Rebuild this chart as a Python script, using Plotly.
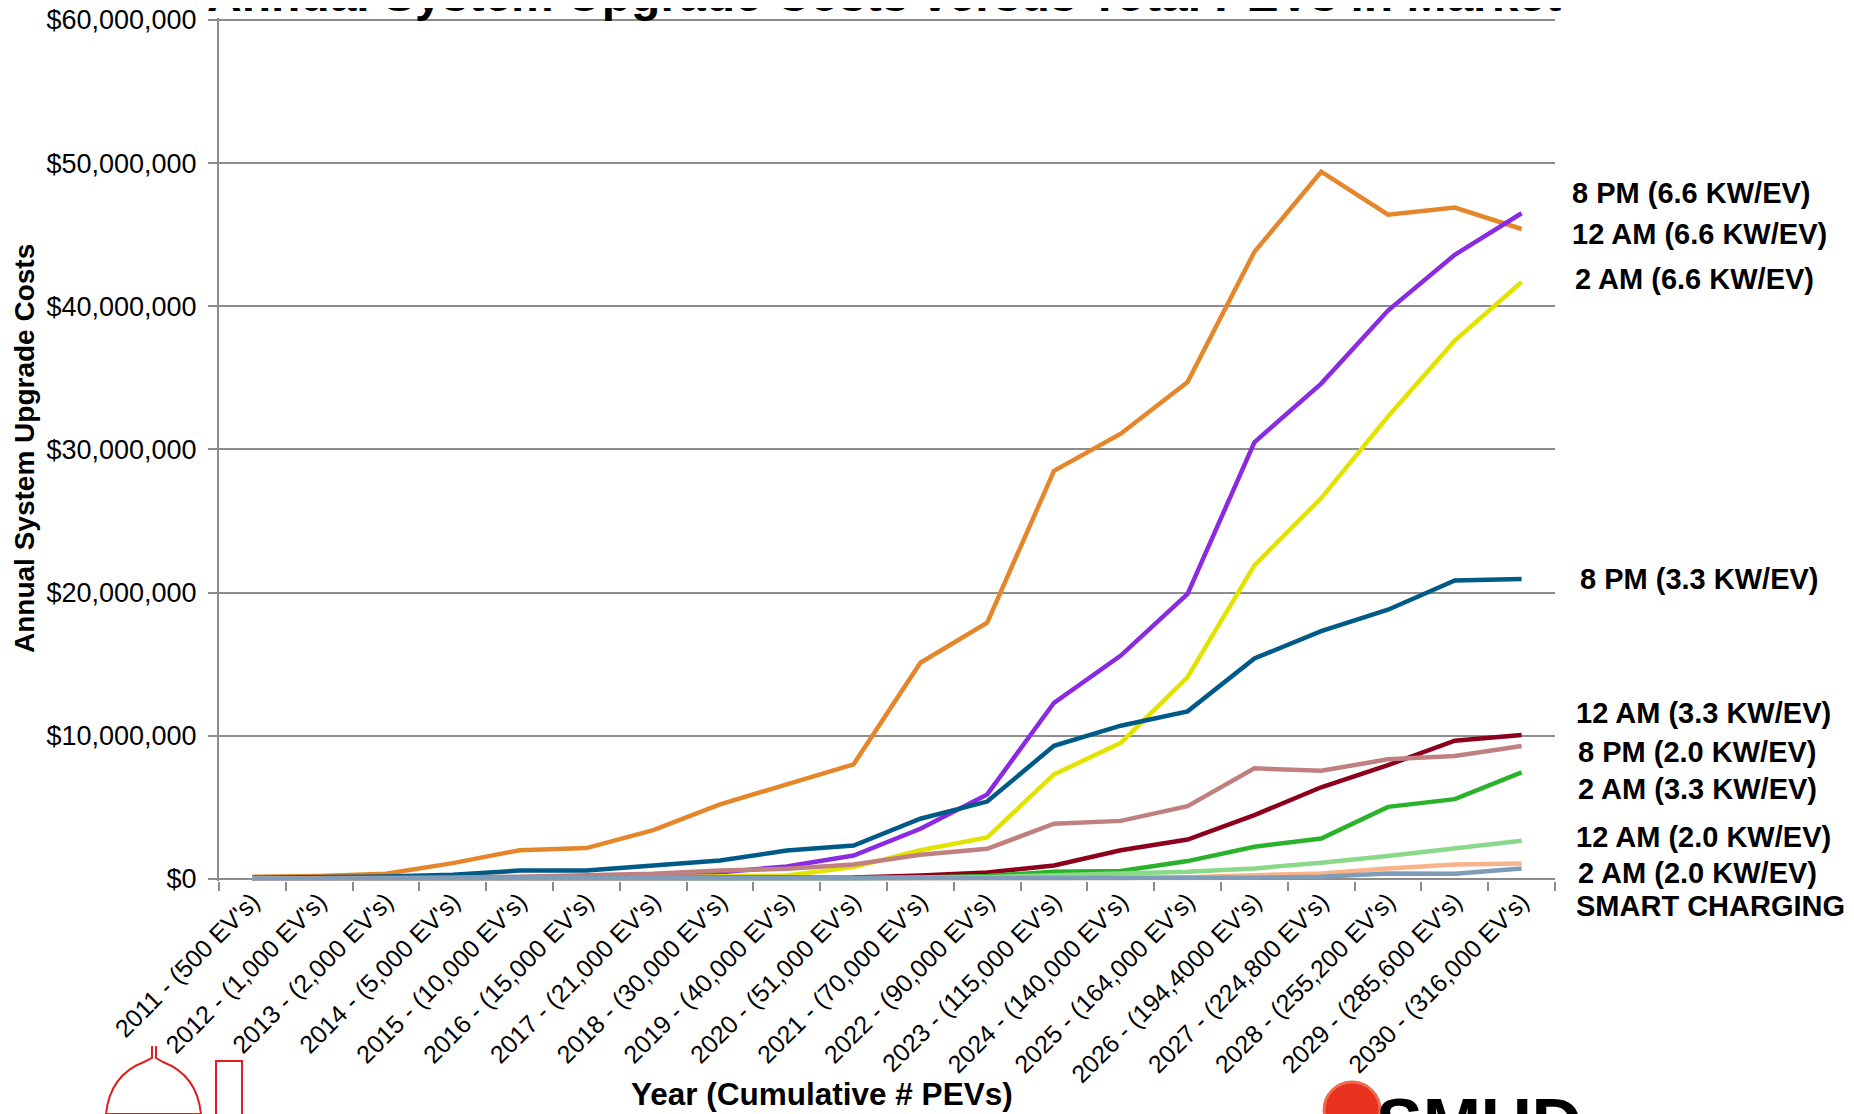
import plotly.graph_objects as go

categories = ["2011 - (500 EV's)", "2012 - (1,000 EV's)", "2013 - (2,000 EV's)", "2014 - (5,000 EV's)",
              "2015 - (10,000 EV's)", "2016 - (15,000 EV's)", "2017 - (21,000 EV's)", "2018 - (30,000 EV's)",
              "2019 - (40,000 EV's)", "2020 - (51,000 EV's)", "2021 - (70,000 EV's)", "2022 - (90,000 EV's)",
              "2023 - (115,000 EV's)", "2024 - (140,000 EV's)", "2025 - (164,000 EV's)", "2026 - (194,4000 EV's)",
              "2027 - (224,800 EV's)", "2028 - (255,200 EV's)", "2029 - (285,600 EV's)", "2030 - (316,000 EV's)"]

# values in $ millions
pm8_66 = [0.15, 0.2, 0.35, 1.1, 2.0, 2.15, 3.4, 5.2, 6.6, 8.0, 15.1, 17.9, 28.5, 31.1, 34.7, 43.8, 49.4, 46.4, 46.9, 45.4]
am12_66 = [0.05, 0.05, 0.08, 0.1, 0.12, 0.15, 0.23, 0.47, 0.86, 1.63, 3.5, 5.9, 12.3, 15.6, 19.9, 30.5, 34.6, 39.7, 43.6, 46.5]
am2_66 = [0.03, 0.03, 0.05, 0.06, 0.08, 0.1, 0.12, 0.16, 0.23, 0.82, 2.0, 2.9, 7.3, 9.5, 14.1, 21.9, 26.6, 32.3, 37.6, 41.7]
pm8_33 = [0.08, 0.1, 0.16, 0.28, 0.58, 0.58, 0.93, 1.28, 1.98, 2.33, 4.2, 5.4, 9.3, 10.7, 11.7, 15.4, 17.3, 18.8, 20.85, 20.95]
am12_33 = [0.02, 0.02, 0.02, 0.03, 0.03, 0.04, 0.05, 0.06, 0.08, 0.1, 0.23, 0.45, 0.93, 2.0, 2.75, 4.45, 6.4, 7.95, 9.65, 10.05]
am2_33 = [0.01, 0.01, 0.01, 0.01, 0.02, 0.02, 0.03, 0.04, 0.05, 0.06, 0.1, 0.2, 0.5, 0.55, 1.24, 2.24, 2.82, 5.03, 5.57, 7.44]
pm8_20 = [0.03, 0.04, 0.06, 0.1, 0.15, 0.23, 0.35, 0.58, 0.7, 1.0, 1.68, 2.1, 3.85, 4.05, 5.08, 7.72, 7.55, 8.35, 8.58, 9.28]
am12_20 = [0.0, 0.0, 0.0, 0.0, 0.01, 0.01, 0.02, 0.03, 0.04, 0.05, 0.08, 0.12, 0.25, 0.38, 0.5, 0.73, 1.12, 1.59, 2.12, 2.66]
am2_20 = [0.0, 0.0, 0.0, 0.0, 0.0, 0.0, 0.0, 0.0, 0.01, 0.01, 0.02, 0.02, 0.03, 0.06, 0.12, 0.25, 0.38, 0.73, 1.0, 1.08]
smart = [0.02, 0.02, 0.02, 0.02, 0.02, 0.02, 0.02, 0.02, 0.02, 0.02, 0.03, 0.03, 0.04, 0.05, 0.06, 0.08, 0.14, 0.38, 0.35, 0.73]

series_names = ["8 PM (6.6 KW/EV)", "12 AM (6.6 KW/EV)", "2 AM (6.6 KW/EV)", "8 PM (3.3 KW/EV)",
                "12 AM (3.3 KW/EV)", "2 AM (3.3 KW/EV)", "8 PM (2.0 KW/EV)", "12 AM (2.0 KW/EV)",
                "2 AM (2.0 KW/EV)", "SMART CHARGING"]
series_values = [pm8_66, am12_66, am2_66, pm8_33, am12_33, am2_33, pm8_20, am12_20, am2_20, smart]
series_colors = ["#E6862B", "#8A2BE2", "#E3E300", "#005A87", "#8C001E", "#2AB32A", "#C08080", "#8AD88A",
                 "#F9B28A", "#7F9CB8"]

# right-side label order (top to bottom)
label_texts = ["8 PM (6.6 KW/EV)", "12 AM (6.6 KW/EV)", "2 AM (6.6 KW/EV)", "8 PM (3.3 KW/EV)",
               "12 AM (3.3 KW/EV)", "8 PM (2.0 KW/EV)", "2 AM (3.3 KW/EV)", "12 AM (2.0 KW/EV)",
               "2 AM (2.0 KW/EV)", "SMART CHARGING"]
# page-pixel positions of the labels
label_py = [193, 234, 279, 579, 713, 752, 789, 837, 873, 906]
label_px = [1570, 1570, 1573, 1578, 1574, 1576, 1576, 1574, 1576, 1574]

FW, FH = 1854, 1114
OFF = 8  # page body margin
PL, PT = 219, 18          # plot-area left / top in page pixels
W, H = 1336, 863
L, T = PL - OFF, PT - OFF
B = FH - T - H
R = FW - L - W


def pxx(px):
    return (px - PL) / W


def pxy(py):
    return (PT + H - py) / H


FONT = "Liberation Sans, Arial, sans-serif"

fig = go.Figure()
for name, vals, col in zip(series_names, series_values, series_colors):
    fig.add_trace(go.Scatter(x=categories, y=[v * 1e6 for v in vals], mode="lines", name=name,
                             line=dict(color=col, width=4.5)))

annotations = []
for txt, py, px in zip(label_texts, label_py, label_px):
    annotations.append(dict(text="<b>%s</b>" % txt, xref="paper", yref="paper", x=pxx(px), y=pxy(py),
                            xanchor="left", yanchor="middle", showarrow=False,
                            font=dict(family=FONT, size=29, color="black")))
# title (cut off at the top of the canvas)
annotations.append(dict(text="<b>Annual System Upgrade Costs versus Total PEVs in Market</b>", xref="paper",
                        yref="paper", x=pxx(884), y=pxy(-6), xanchor="center", yanchor="middle",
                        showarrow=False, font=dict(family=FONT, size=48, color="black")))
annotations.append(dict(text="<b>Annual System Upgrade Costs</b>", xref="paper", yref="paper", x=pxx(24),
                        y=pxy(449), xanchor="center", yanchor="middle", textangle=-90, showarrow=False,
                        font=dict(family=FONT, size=28, color="black")))
annotations.append(dict(text="<b>Year (Cumulative # PEVs)</b>", xref="paper", yref="paper", x=pxx(822),
                        y=pxy(1094), xanchor="center", yanchor="middle", showarrow=False,
                        font=dict(family=FONT, size=31.5, color="black")))
annotations.append(dict(text="<b>SMUD</b>", xref="paper", yref="paper", x=pxx(1374), y=pxy(1124),
                        xanchor="left", yanchor="middle", showarrow=False,
                        font=dict(family=FONT, size=70, color="black")))

shapes = [
    dict(type="circle", xref="paper", yref="paper", x0=pxx(1324), x1=pxx(1380), y0=pxy(1138), y1=pxy(1082),
         fillcolor="#E8321E", line=dict(color="#F06A50", width=3)),
    dict(type="path", xref="paper", yref="paper",
         path="M %f,%f L %f,%f L %f,%f Q %f,%f %f,%f L %f,%f Q %f,%f %f,%f L %f,%f L %f,%f" % (
             pxx(152), pxy(1046), pxx(152), pxy(1058), pxx(144), pxy(1062),
             pxx(110), pxy(1075), pxx(106), pxy(1114), pxx(201), pxy(1114),
             pxx(197), pxy(1075), pxx(163), pxy(1062), pxx(156), pxy(1058), pxx(156), pxy(1046)),
         line=dict(color="#E02020", width=2)),
    dict(type="path", xref="paper", yref="paper",
         path="M %f,%f L %f,%f L %f,%f L %f,%f" % (pxx(216), pxy(1114), pxx(216), pxy(1061), pxx(242), pxy(1061),
                                                   pxx(242), pxy(1114)),
         line=dict(color="#E02020", width=2)),
]

fig.update_layout(
    width=FW, height=FH,
    margin=dict(l=L, r=R, t=T, b=B, pad=0, autoexpand=False),
    paper_bgcolor="white", plot_bgcolor="white",
    showlegend=False,
    font=dict(family=FONT, size=25, color="black"),
    annotations=annotations,
    shapes=shapes,
    xaxis=dict(type="category", tickangle=-45, tickfont=dict(family=FONT, size=25, color="black"),
               showline=False, showgrid=False, ticks="outside", tickson="boundaries", ticklen=9,
               tickcolor="#8c8c8c", tickwidth=2, range=[-0.5, 19.5], fixedrange=True, automargin=False),
    yaxis=dict(range=[-0.15e6, 60.14e6], tickvals=[0, 1e7, 2e7, 3e7, 4e7, 5e7, 6e7], tickformat="$,.0f",
               tickfont=dict(family=FONT, size=27, color="black"), showline=True, linecolor="#8c8c8c",
               linewidth=2, ticks="outside", ticklen=9, tickcolor="#8c8c8c", tickwidth=2,
               showgrid=True, gridcolor="#8c8c8c", gridwidth=2, ticklabeloverflow="allow",
               automargin=False,
               zeroline=True, zerolinecolor="#8c8c8c", zerolinewidth=2, ticklabelstandoff=6),
)

fig.write_html("out.html")
